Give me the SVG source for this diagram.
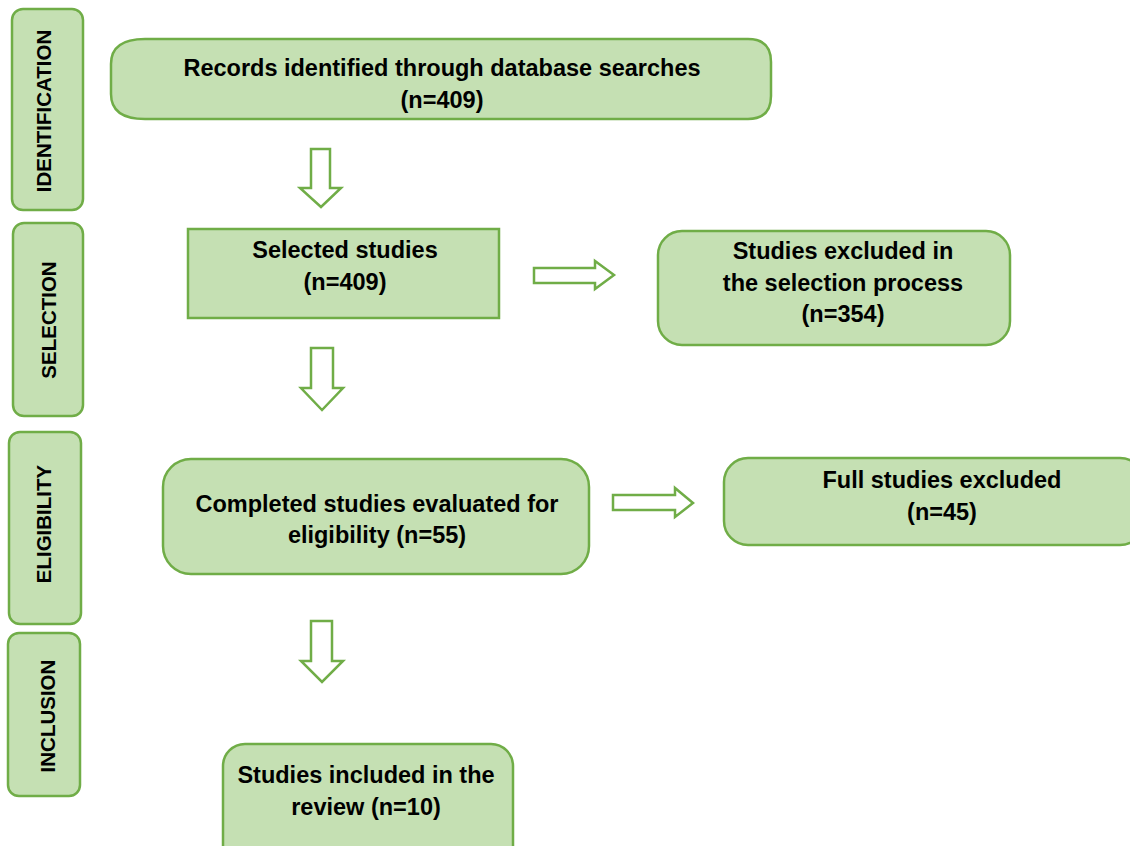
<svg xmlns="http://www.w3.org/2000/svg" width="1130" height="846" viewBox="0 0 1130 846">
  <style>
    .box { fill: #c5e0b3; stroke: #70ad47; stroke-width: 2.5; }
    .arrow { fill: #ffffff; stroke: #70ad47; stroke-width: 2.5; stroke-linejoin: miter; }
    .txt { font-family: "Liberation Sans", Arial, sans-serif; font-weight: bold; font-size: 23.5px; fill: #000; text-anchor: middle; }
    .phase { font-family: "Liberation Sans", Arial, sans-serif; font-weight: bold; font-size: 20.5px; fill: #000; text-anchor: middle; }
  </style>
  <rect width="1130" height="846" fill="#ffffff"/>

  <!-- phase labels down the left side -->
  <g id="phase-identification">
    <rect class="box" x="12" y="9" width="71" height="201" rx="11"/>
    <text class="phase" transform="translate(51,111) rotate(-90)">IDENTIFICATION</text>
  </g>
  <g id="phase-selection">
    <rect class="box" x="13" y="223" width="70" height="193" rx="11"/>
    <text class="phase" transform="translate(56,320) rotate(-90)">SELECTION</text>
  </g>
  <g id="phase-eligibility">
    <rect class="box" x="9" y="432" width="72" height="192" rx="11"/>
    <text class="phase" transform="translate(51,524) rotate(-90)">ELIGIBILITY</text>
  </g>
  <g id="phase-inclusion">
    <rect class="box" x="8" y="633" width="72" height="163" rx="11"/>
    <text class="phase" transform="translate(55,716) rotate(-90)">INCLUSION</text>
  </g>

  <!-- flow boxes -->
  <g id="records">
    <path class="box" d="M145,39 H748 Q771,39 771,62 V96 Q771,119 748,119 H145 Q111,119 111,94 V64 Q111,39 145,39 Z"/>
    <text class="txt" x="442" y="76">Records identified through database searches</text>
    <text class="txt" x="442" y="108">(n=409)</text>
  </g>
  <g id="selected">
    <rect class="box" x="188" y="229" width="311" height="89"/>
    <text class="txt" x="345" y="258">Selected studies</text>
    <text class="txt" x="345" y="290">(n=409)</text>
  </g>
  <g id="excluded-selection">
    <rect class="box" x="658" y="231" width="352" height="114" rx="24"/>
    <text class="txt" x="843" y="259">Studies excluded in</text>
    <text class="txt" x="843" y="291">the selection process</text>
    <text class="txt" x="843" y="322">(n=354)</text>
  </g>
  <g id="eligibility">
    <rect class="box" x="163" y="459" width="426" height="115" rx="28"/>
    <text class="txt" x="377" y="512">Completed studies evaluated for</text>
    <text class="txt" x="377" y="543">eligibility (n=55)</text>
  </g>
  <g id="excluded-full">
    <rect class="box" x="724" y="458" width="420" height="87" rx="24"/>
    <text class="txt" x="942" y="488">Full studies excluded</text>
    <text class="txt" x="942" y="520">(n=45)</text>
  </g>
  <g id="included">
    <rect class="box" x="223" y="744" width="290" height="130" rx="22"/>
    <text class="txt" x="366" y="783">Studies included in the</text>
    <text class="txt" x="366" y="815">review (n=10)</text>
  </g>

  <!-- block arrows between steps -->
  <g id="connectors">
    <path class="arrow" d="M311,149 H330 V188 H341 L321,207 L300,188 H311 Z"/>
    <path class="arrow" d="M311,348 H333 V388 H343 L322,410 L301,388 H311 Z"/>
    <path class="arrow" d="M311,621 H332 V661 H343 L322,682 L301,661 H311 Z"/>
    <path class="arrow" d="M534,268 H595 V261 L614,275 L595,289 V283 H534 Z"/>
    <path class="arrow" d="M613,495 H675 V488 L693,503 L675,517 V510 H613 Z"/>
  </g>
</svg>
